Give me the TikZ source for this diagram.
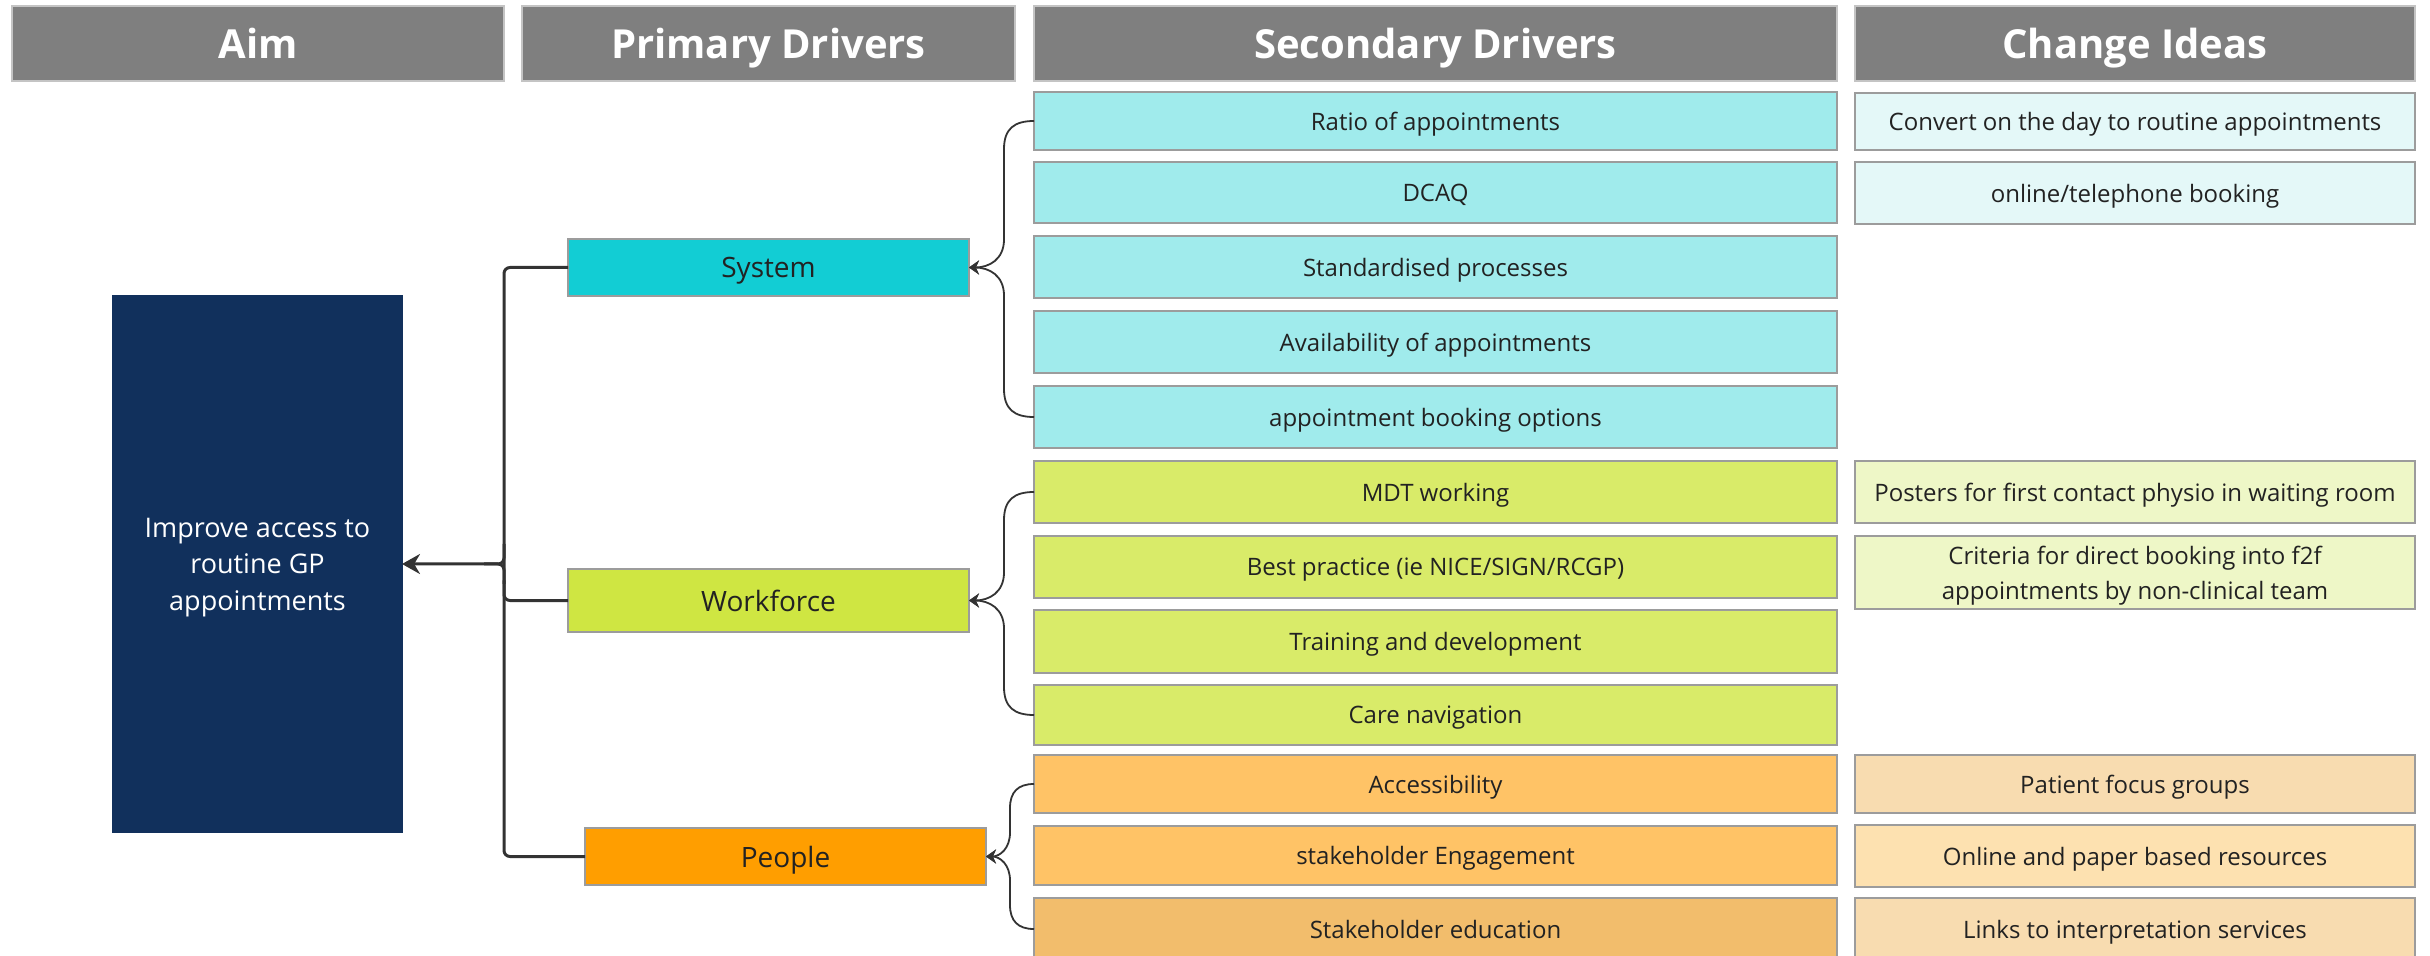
\documentclass[tikz,border=0pt]{standalone}
\usepackage{fontspec}
\setmainfont{Open Sans}
\usetikzlibrary{arrows.meta,calc}
\definecolor{hdr}{HTML}{7F7F7F}
\definecolor{hdrline}{HTML}{C4C4C4}
\definecolor{bord}{HTML}{9C9C9C}
\definecolor{txt}{HTML}{222222}
\definecolor{navy}{HTML}{11305C}
\definecolor{sysP}{HTML}{12CDD4}
\definecolor{sysS}{HTML}{A0EBEC}
\definecolor{sysC}{HTML}{E4F8F8}
\definecolor{wfP}{HTML}{CFE642}
\definecolor{wfS}{HTML}{D9EB69}
\definecolor{wfC}{HTML}{EEF7C7}
\definecolor{peP}{HTML}{FF9E00}
\definecolor{peS}{HTML}{FFC366}
\definecolor{peS2}{HTML}{F2BD6C}
\definecolor{peC}{HTML}{F8DCB0}
\definecolor{peC2}{HTML}{FDE1B0}
\definecolor{line}{HTML}{333333}
\begin{document}
\begin{tikzpicture}[x=0.5pt,y=-0.5pt,
  hdrbox/.style={fill=hdr, draw=hdrline, line width=1pt, inner sep=0pt, outer sep=0pt, text=white, text depth=0pt, minimum height=37.5pt, font=\fontsize{20}{24}\selectfont\bfseries},
  box/.style={draw=bord, line width=1pt, inner sep=0pt, outer sep=0pt, text=txt, text depth=0pt, align=center},
  secbox/.style={box, minimum width=401.5pt, font=\fontsize{12}{17.5}\selectfont},
  chgbox/.style={box, minimum width=280pt, font=\fontsize{12}{17.5}\selectfont},
  primbox/.style={box, minimum width=200.5pt, font=\fontsize{14}{17}\selectfont},
  trunkline/.style={draw=line, line width=1.5pt},
  secline/.style={draw=line, line width=0.9pt},
  tip/.style={-{Stealth[length=5pt,width=7pt]}}
]
\useasboundingbox (0,0) rectangle (2430,956);

% headers
\node[hdrbox, minimum width=246pt] (h1) at (258,43.5) {Aim};
\node[hdrbox, minimum width=246.5pt] (h2) at (768.5,43.5) {Primary Drivers};
\node[hdrbox, minimum width=401.5pt] (h3) at (1435.5,43.5) {Secondary Drivers};
\node[hdrbox, minimum width=280pt] (h4) at (2135,43.5) {Change Ideas};

% aim
\node[box, draw=navy, fill=navy, text=white, minimum width=144.5pt, minimum height=268pt, font=\fontsize{13.5}{18.3}\selectfont] (aim) at (257.5,564) {Improve access to\\routine GP\\appointments};

% primary drivers
\node[primbox, fill=sysP, minimum height=28.5pt] (sys) at (768.5,267.5) {System};
\node[primbox, fill=wfP, minimum height=31.5pt] (wf) at (768.5,600.5) {Workforce};
\node[primbox, fill=peP, minimum height=28.5pt] (peo) at (785.5,856.5) {People};

% secondary drivers
\node[secbox, fill=sysS, minimum height=29pt] (s1) at (1435.5,121) {Ratio of appointments};
\node[secbox, fill=sysS, minimum height=30.5pt] (s2) at (1435.5,192.5) {DCAQ};
\node[secbox, fill=sysS, minimum height=31pt] (s3) at (1435.5,267) {Standardised processes};
\node[secbox, fill=sysS, minimum height=31pt] (s4) at (1435.5,342) {Availability of appointments};
\node[secbox, fill=sysS, minimum height=31pt] (s5) at (1435.5,417) {appointment booking options};
\node[secbox, fill=wfS, minimum height=31pt] (w1) at (1435.5,492) {MDT working};
\node[secbox, fill=wfS, minimum height=31pt] (w2) at (1435.5,567) {Best practice (ie NICE/SIGN/RCGP)};
\node[secbox, fill=wfS, minimum height=31.5pt] (w3) at (1435.5,641.5) {Training and development};
\node[secbox, fill=wfS, minimum height=30pt] (w4) at (1435.5,715) {Care navigation};
\node[secbox, fill=peS, minimum height=29pt] (p1) at (1435.5,784) {Accessibility};
\node[secbox, fill=peS, minimum height=29.5pt] (p2) at (1435.5,855.5) {stakeholder Engagement};
\node[secbox, fill=peS2, minimum height=31pt] (p3) at (1435.5,929) {Stakeholder education};

% change ideas
\node[chgbox, fill=sysC, minimum height=28.5pt] (c1) at (2135,121.5) {Convert on the day to routine appointments};
\node[chgbox, fill=sysC, minimum height=31pt] (c2) at (2135,193) {online/telephone booking};
\node[chgbox, fill=wfC, minimum height=31pt] (c3) at (2135,492) {Posters for first contact physio in waiting room};
\node[chgbox, fill=wfC, minimum height=36.5pt] (c4) at (2135,572.5) {Criteria for direct booking into f2f\\appointments by non-clinical team};
\node[chgbox, fill=peC, minimum height=29pt] (c5) at (2135,784) {Patient focus groups};
\node[chgbox, fill=peC2, minimum height=31pt] (c6) at (2135,856) {Online and paper based resources};
\node[chgbox, fill=peC, minimum height=31pt] (c7) at (2135,929) {Links to interpretation services};

% trunk to aim
\coordinate (tr) at (504,564);
\draw[trunkline, rounded corners=3pt] (sys.west) -- (sys.west -| tr) -- (peo.west -| tr) -- (peo.west);
\draw[trunkline, rounded corners=3pt] (wf.west) -- (wf.west -| tr) -- ++(0,-20);
\draw[trunkline, rounded corners=3pt] ($(tr)+(0,20)$) -- (tr) -- ($(tr)+(-20,0)$);
\draw[trunkline, rounded corners=3pt, -{Stealth[length=9pt,width=10pt]}] ($(tr)+(0,-20)$) -- (tr) -- (aim.east);

% secondary to primary
\draw[secline, tip] (s1.west) .. controls +(-20,0) and +(0,-20) .. ++(-30,28) -- ($(sys.east)+(35,-28)$) .. controls +(0,20) and +(20,0) .. (sys.east);
\draw[secline, tip] (s5.west) .. controls +(-20,0) and +(0,20) .. ++(-30,-28) -- ($(sys.east)+(35,28)$) .. controls +(0,-20) and +(20,0) .. (sys.east);
\draw[secline, tip] (w1.west) .. controls +(-20,0) and +(0,-20) .. ++(-30,28) -- ($(wf.east)+(35,-28)$) .. controls +(0,20) and +(20,0) .. (wf.east);
\draw[secline, tip] (w4.west) .. controls +(-20,0) and +(0,20) .. ++(-30,-28) -- ($(wf.east)+(35,28)$) .. controls +(0,-20) and +(20,0) .. (wf.east);
\draw[secline, tip] (p1.west) .. controls +(-16,0) and +(0,-16) .. ++(-24,24) -- ($(peo.east)+(24,-24)$) .. controls +(0,16) and +(14,0) .. (peo.east);
\draw[secline, tip] (p3.west) .. controls +(-16,0) and +(0,16) .. ++(-24,-24) -- ($(peo.east)+(24,24)$) .. controls +(0,-16) and +(14,0) .. (peo.east);
\end{tikzpicture}
\end{document}
